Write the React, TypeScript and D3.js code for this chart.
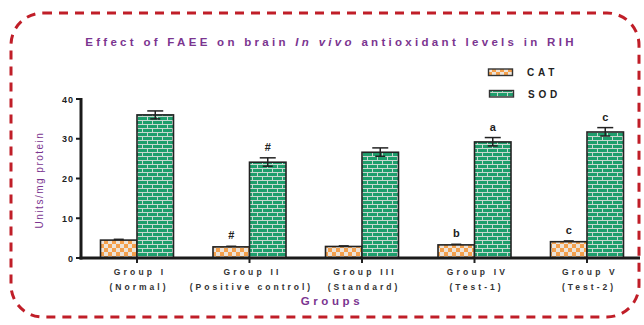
import React from "react";
import * as d3 from "d3";

const groups = ["Group I", "Group II", "Group III", "Group IV", "Group V"];
const subLabels = ["(Normal)", "(Positive control)", "(Standard)", "(Test-1)", "(Test-2)"];
const catValues = [4.5, 2.8, 2.9, 3.3, 4.1];
const catErrors = [0.2, 0.15, 0.15, 0.15, 0.2];
const sodValues = [36.0, 24.1, 26.6, 29.2, 31.7];
const sodErrors = [1.0, 1.1, 1.1, 1.1, 1.1];
const catMarks = ["", "#", "", "b", "c"];
const sodMarks = ["", "#", "", "a", "c"];
const yTicks = [0, 10, 20, 30, 40];

const purple = "#7B3590";
const font = "Arial, 'Liberation Sans', sans-serif";

export default function App() {
  const W = 644, H = 325;
  const y = d3.scaleLinear().domain([0, 40]).range([258, 99]);
  const x = d3.scalePoint<string>().domain(groups).range([137, 587]);
  const bw = 36.5;
  const x0 = 81;

  return (
    <svg width={W} height={H} style={{ position: "absolute", left: 0, top: 0, background: "#fff" }}>
      <defs>
        <pattern id="check" width="8" height="8" patternUnits="userSpaceOnUse">
          <rect width="8" height="8" fill="#EDE4DA" />
          <rect width="4" height="4" fill="#F4A04C" />
          <rect x="4" y="4" width="4" height="4" fill="#F4A04C" />
        </pattern>
        <pattern id="brick" width="10" height="8" patternUnits="userSpaceOnUse">
          <rect width="10" height="8" fill="#1E9E6C" />
          <line x1="0" y1="0.5" x2="10" y2="0.5" stroke="#C9D8D0" strokeWidth="1" />
          <line x1="0" y1="4.5" x2="10" y2="4.5" stroke="#C9D8D0" strokeWidth="1" />
          <line x1="2.5" y1="0" x2="2.5" y2="4" stroke="#C9D8D0" strokeWidth="1" />
          <line x1="7.5" y1="4" x2="7.5" y2="8" stroke="#C9D8D0" strokeWidth="1" />
        </pattern>
      </defs>

      <rect x="11" y="13" width="628" height="304" rx="32" ry="32" fill="none"
        stroke="#C01E28" strokeWidth="3" strokeDasharray="9 7" />

      <text x={331} y={46} textAnchor="middle" fontFamily={font} fontWeight="bold" fontSize="11.5"
        fill={purple} letterSpacing="3.3">
        Effect of FAEE on brain <tspan fontStyle="italic">In vivo</tspan> antioxidant levels in RIH
      </text>

      {/* legend */}
      <rect x={488.5} y={69} width={24} height={6.5} fill="url(#check)" stroke="#333" strokeWidth="1.4" />
      <text x={527} y={76} fontFamily={font} fontWeight="bold" fontSize="10" letterSpacing="3.8" fill="#222">CAT</text>
      <rect x={489.5} y={90.5} width={24} height={6.5} fill="url(#brick)" stroke="#333" strokeWidth="1.4" />
      <text x={528} y={97.5} fontFamily={font} fontWeight="bold" fontSize="10" letterSpacing="3.8" fill="#222">SOD</text>

      {/* bars */}
      {groups.map((g, i) => {
        const cx = x(g)!;
        const cy = y(catValues[i]);
        const sy = y(sodValues[i]);
        const ce = y(catValues[i] + catErrors[i]);
        const se = y(sodValues[i] + sodErrors[i]);
        return (
          <g key={g}>
            <rect x={cx - bw} y={cy} width={bw} height={y(0) - cy} fill="url(#check)" stroke="#222" strokeWidth="1.6" />
            <line x1={cx - bw / 2} x2={cx - bw / 2} y1={cy} y2={ce} stroke="#222" strokeWidth="1.5" />
            <line x1={cx - bw / 2 - 5} x2={cx - bw / 2 + 5} y1={ce} y2={ce} stroke="#222" strokeWidth="1.5" />
            <rect x={cx} y={sy} width={bw} height={y(0) - sy} fill="url(#brick)" stroke="#222" strokeWidth="1.6" />
            <line x1={cx + bw / 2} x2={cx + bw / 2} y1={sy + 4} y2={se} stroke="#222" strokeWidth="1.5" />
            <line x1={cx + bw / 2 - 8} x2={cx + bw / 2 + 8} y1={se} y2={se} stroke="#222" strokeWidth="1.5" />
            <line x1={cx + bw / 2 - 5} x2={cx + bw / 2 + 5} y1={sy + 4} y2={sy + 4} stroke="#222" strokeWidth="1.5" />
            {catMarks[i] && (
              <text x={cx - bw / 2} y={ce - 7} textAnchor="middle" fontFamily={font} fontWeight="bold" fontSize="11" fill="#222">{catMarks[i]}</text>
            )}
            {sodMarks[i] && (
              <text x={cx + bw / 2} y={se - 7} textAnchor="middle" fontFamily={font} fontWeight="bold" fontSize="11" fill="#222">{sodMarks[i]}</text>
            )}
            <line x1={cx} x2={cx} y1={y(0)} y2={y(0) + 5} stroke="#222" strokeWidth="2" />
            <text x={cx + 3} y={275} textAnchor="middle" fontFamily={font} fontWeight="bold" fontSize="8.5" letterSpacing="3.2" fill="#333">{g}</text>
            <text x={cx + 2} y={290} textAnchor="middle" fontFamily={font} fontWeight="bold" fontSize="8.5" letterSpacing="3" fill="#333">{subLabels[i]}</text>
          </g>
        );
      })}

      {/* axes */}
      <line x1={x0} x2={x0} y1={y(40) - 1} y2={y(0) + 1.5} stroke="#1a1a1a" strokeWidth="3" />
      <line x1={x0 - 1.5} x2={640} y1={y(0)} y2={y(0)} stroke="#1a1a1a" strokeWidth="3" />
      {yTicks.map((t) => (
        <g key={t}>
          <line x1={x0 - 5} x2={x0} y1={y(t)} y2={y(t)} stroke="#1a1a1a" strokeWidth="2" />
          <text x={x0 - 7} y={y(t) + 3.5} textAnchor="end" fontFamily={font} fontWeight="bold" fontSize="9" letterSpacing="1" fill="#222">{t}</text>
        </g>
      ))}

      <text transform={`translate(43,180) rotate(-90)`} textAnchor="middle" fontFamily={font} fontSize="10"
        letterSpacing="1.5" fill={purple}>Units/mg protein</text>

      <text x={332} y={305} textAnchor="middle" fontFamily={font} fontWeight="bold" fontSize="11.5" letterSpacing="3.6" fill={purple}>Groups</text>
    </svg>
  );
}
